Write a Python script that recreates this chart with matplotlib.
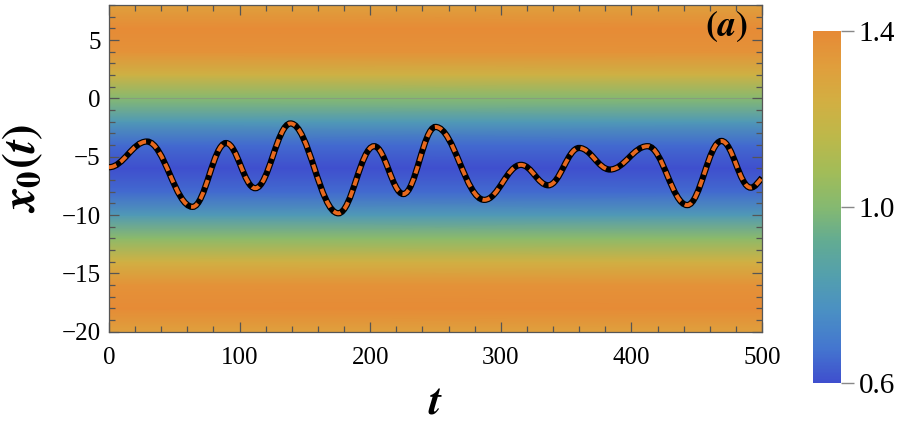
import numpy as np
import matplotlib
matplotlib.use("Agg")
import matplotlib.pyplot as plt
from matplotlib.path import Path
from matplotlib.patches import PathPatch
from matplotlib.colors import LinearSegmentedColormap
from matplotlib.ticker import MultipleLocator, FixedLocator

plt.rcParams['font.family'] = ['Liberation Serif', 'DejaVu Serif']
plt.rcParams['mathtext.fontset'] = 'custom'
plt.rcParams['mathtext.it'] = 'STIXGeneral:italic:bold'
plt.rcParams['mathtext.rm'] = 'STIXGeneral:bold'
plt.rcParams['mathtext.bf'] = 'STIXGeneral:italic:bold'

# ---- data ----
# trajectory x0(t): start point, successive extrema, end point
t_pts = [0, 29, 64, 89.6, 112, 139, 175.6, 203, 225.4, 250, 287.4, 315.5,
         336.4, 360, 383.6, 412.4, 442.8, 469, 491.3, 500]
x_pts = [-5.9, -3.7, -9.3, -3.83, -7.7, -2.15, -9.85, -4.1, -8.2, -2.45, -8.7,
         -5.7, -7.45, -4.25, -6.1, -4.1, -9.15, -3.65, -7.65, -6.8]

# background field profile (depends on x only)
field_x = [-20, -18, -16, -14, -12, -10, -8, -6, -4, -2, 0, 2, 4, 6, 8]
field_v = [1.31, 1.396, 1.367, 1.231, 1.02, 0.81, 0.655, 0.6, 0.655, 0.81,
           1.0, 1.22, 1.367, 1.396, 1.311]

t_range = [0, 500]
cbar_ticks = [0.6, 1.0, 1.4]
cbar_labels = ["0.6", "1.0", "1.4"]

cmap_colors = ['#3F4FCE', '#4477CF', '#4A8FC4', '#539FAE', '#62AB93', '#85B970',
               '#A2BC58', '#BDB84A', '#D2AF42', '#E09E3C', '#E68A36']
cmap = LinearSegmentedColormap.from_list('mm_rainbow', cmap_colors)

fig = plt.figure(figsize=(9.13, 4.36), dpi=100)
ax = fig.add_axes([0.1194, 0.2392, 0.7152, 0.7493])

T, X = np.meshgrid(t_range, field_x)
C = np.repeat(np.array(field_v)[:, None], 2, axis=1)
mesh = ax.pcolormesh(T, X, C, shading='gouraud', cmap=cmap, vmin=0.6, vmax=1.4,
                     zorder=0)

ax.axhline(0, color='#888888', lw=0.8, alpha=0.5, zorder=1)

# smooth curve through the read points (horizontal tangents at extrema)
k = 0.38
verts = [(t_pts[0], x_pts[0])]
codes = [Path.MOVETO]
n = len(t_pts)
for i in range(n - 1):
    t0, x0 = t_pts[i], x_pts[i]
    t1, x1 = t_pts[i + 1], x_pts[i + 1]
    dt = t1 - t0
    c1 = (t0 + k * dt, x0)
    if i == n - 2:
        c2 = (t1 - dt / 3, x1 - (x1 - x0) * 0.45)
    else:
        c2 = (t1 - k * dt, x1)
    verts += [c1, c2, (t1, x1)]
    codes += [Path.CURVE4] * 3
path = Path(verts, codes)
ax.add_patch(PathPatch(path, facecolor='none', edgecolor='black', lw=4.5,
                       zorder=3, capstyle='butt'))
ax.add_patch(PathPatch(path, facecolor='none', edgecolor='#E8691E', lw=2.8,
                       linestyle=(0, (2.0, 1.3)), zorder=4, capstyle='butt'))

ax.set_xlim(0, 500)
ax.set_ylim(-20, 8)
ax.xaxis.set_major_locator(MultipleLocator(100))
ax.xaxis.set_minor_locator(MultipleLocator(20))
ax.yaxis.set_major_locator(FixedLocator([-20, -15, -10, -5, 0, 5]))
ax.yaxis.set_minor_locator(MultipleLocator(1))
ax.tick_params(which='both', direction='in', top=True, right=True,
               color='#555555', width=0.9)
ax.tick_params(which='major', length=7, labelsize=18, pad=6)
ax.tick_params(which='minor', length=4)
ax.tick_params(axis='x', which='major', pad=11)
for s in ax.spines.values():
    s.set_color('#555555')
    s.set_linewidth(0.9)

ax.set_xlabel(r'$t$', fontsize=32, labelpad=10)
ax.set_ylabel(r'$x_0(t)$', fontsize=34, labelpad=12)
ax.text(0.978, 0.985, r'$(a)$', transform=ax.transAxes,
        ha='right', va='top', fontsize=26)

cax = fig.add_axes([0.8905, 0.1222, 0.0304, 0.8067])
cb = fig.colorbar(mesh, cax=cax)
cb.outline.set_visible(False)
cb.set_ticks(cbar_ticks)
cb.set_ticklabels(cbar_labels)
cax.tick_params(direction='out', length=9, color='#888888', width=1,
                labelsize=21, pad=4)

fig.savefig('out.png', dpi=100, facecolor='white')
